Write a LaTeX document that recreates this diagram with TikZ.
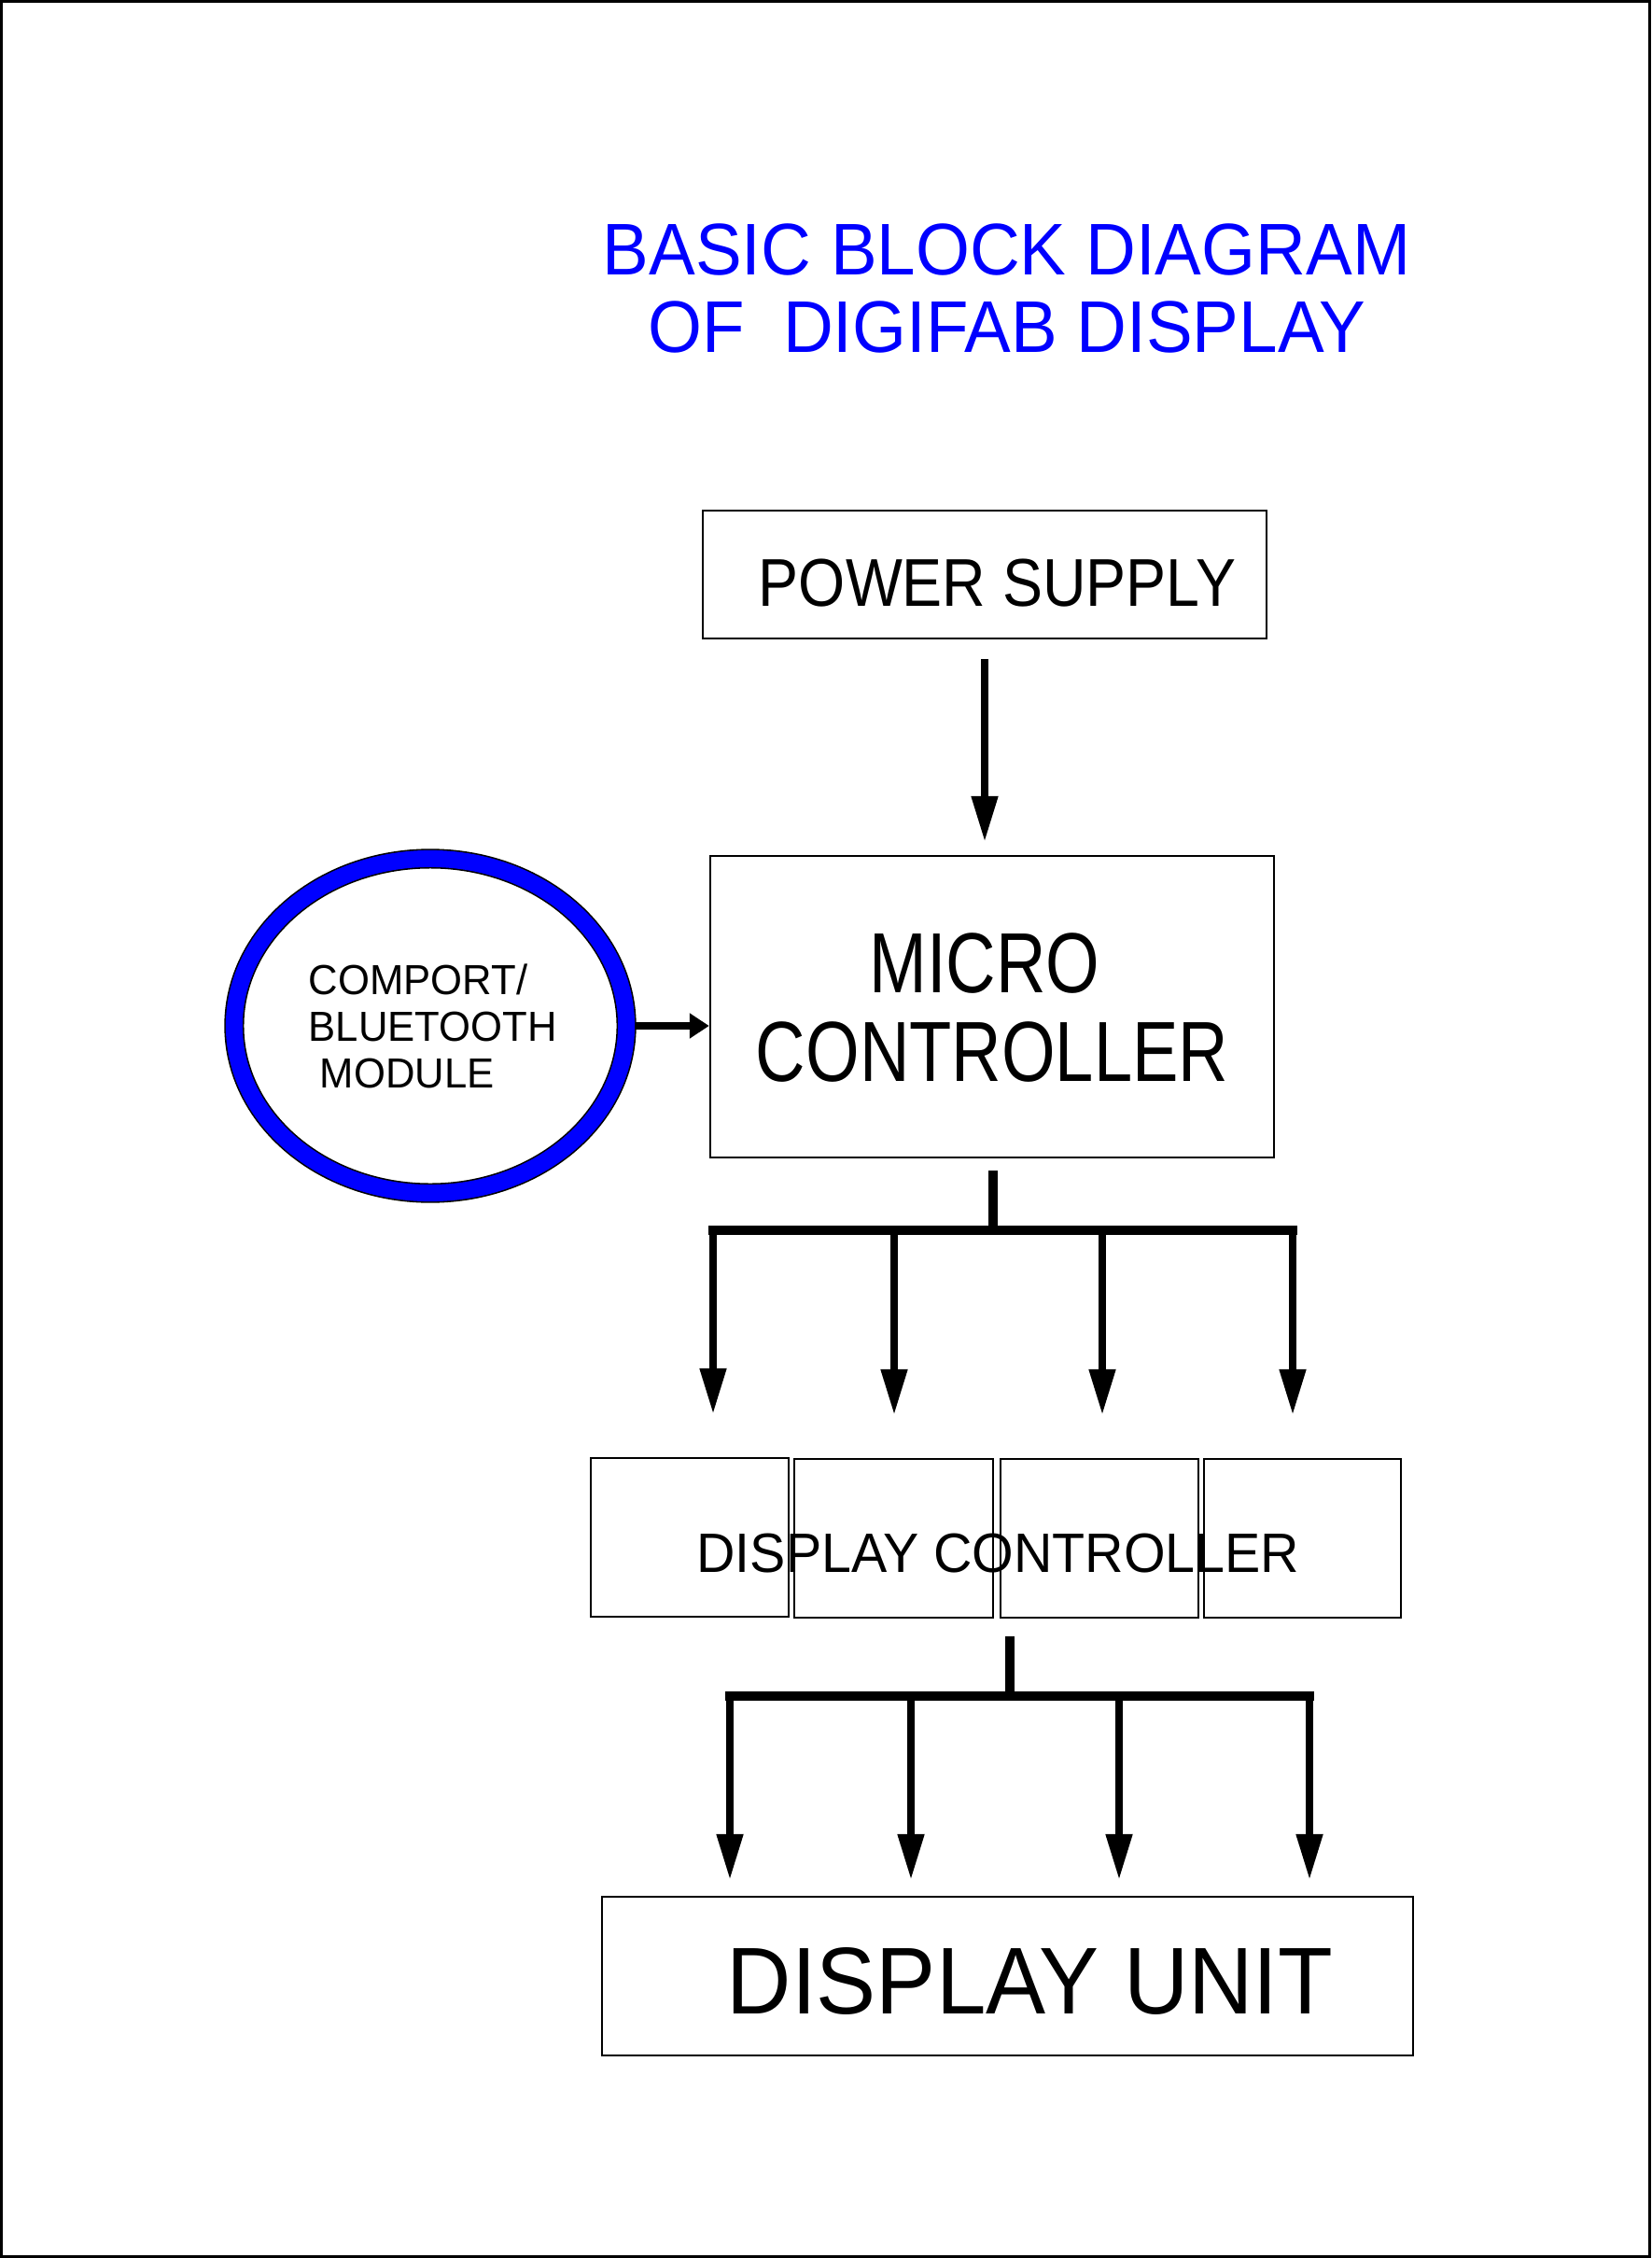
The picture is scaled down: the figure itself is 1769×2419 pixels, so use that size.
\documentclass[tikz,border=0pt]{standalone}
\usepackage{fontspec}
\setmainfont{Liberation Sans}
\usepackage{graphicx}
\usetikzlibrary{arrows.meta,shapes.geometric,calc}
\newcommand\hsq[2]{\scalebox{#1}[1]{#2}}
\begin{document}
\begin{tikzpicture}[x=0.01cm,y=-0.01cm,
  blk/.style={draw, line width=0.6pt, inner sep=0pt},
  lbl/.style={anchor=base, inner sep=0pt},
  arr/.style={line width=2.25pt, -{Triangle[length=0.49cm,width=0.27cm]}},
  arrs/.style={line width=2.25pt, -{Triangle[length=0.21cm,width=0.26cm]}},
  bus/.style={line width=2.8pt, line cap=rect},
  stem/.style={line width=3.1pt},
]
\useasboundingbox (0,0) rectangle (1769,2419);
\draw[line width=0.85pt] (1.5,1.5) rectangle (1767.5,2417.5);

% title
\node[lbl, align=center, text=blue, font=\fontsize{22.3}{23.85}\selectfont] (title) at (1078.5,378)
  {\hsq{0.95}{BASIC BLOCK DIAGRAM}\\\hsq{0.95}{OF\ \ DIGIFAB DISPLAY}};

% power supply
\node[blk, minimum width=6.04cm, minimum height=1.37cm] (ps) at (1055,615.5) {};
\node[lbl, font=\fontsize{20.6}{24}\selectfont] (pst) at (1068.5,650) {\hsq{0.89}{POWER SUPPLY}};

% micro controller
\node[blk, minimum width=6.04cm, minimum height=3.23cm] (mc) at (1063,1078.5) {};
\node[lbl, align=center, font=\fontsize{26}{27}\selectfont] (mct) at (1063,1158)
  {\hsq{0.81}{MICRO}\rule{0.16cm}{0pt}\\\hsq{0.81}{CONTROLLER}};

% comport ellipse
\node[ellipse, draw=black, double=blue, double distance=0.18cm, line width=0.45pt,
      minimum width=4.2cm, minimum height=3.58cm, inner sep=0pt, outer sep=0.1cm] (com) at (461,1099) {};
\node[anchor=base west, align=left, inner sep=0pt, font=\fontsize{12.8}{14.2}\selectfont] (comt) at (330,1165)
  {\hsq{0.97}{COMPORT/}\\\hsq{0.97}{BLUETOOTH}\\\hsq{0.97}{\ MODULE}};

% display controller boxes
\node[blk, minimum width=2.12cm, minimum height=1.70cm] (dc1) at (739,1647) {};
\node[blk, minimum width=2.13cm, minimum height=1.70cm] (dc2) at (957.5,1648) {};
\node[blk, minimum width=2.12cm, minimum height=1.70cm] (dc3) at (1178,1648) {};
\node[blk, minimum width=2.11cm, minimum height=1.70cm] (dc4) at (1395.5,1648) {};
\node[lbl, font=\fontsize{16.9}{20}\selectfont] (dct) at (1069.5,1684) {\hsq{0.965}{DISPLAY CONTROLLER}};

% display unit
\node[blk, minimum width=8.69cm, minimum height=1.70cm] (du) at (1079.5,2117) {};
\node[lbl, font=\fontsize{28.9}{32}\selectfont] (dut) at (1103.5,2157) {\hsq{0.945}{DISPLAY UNIT}};

% connectors
\draw[arr, shorten <=0.21cm, shorten >=0.14cm] (ps.south) -- (ps.south |- mc.north);
\draw[arrs] (com.east) -- (com.east -| mc.west);

% bus 1
\coordinate (j1) at (1064,1318);
\coordinate (d11) at (764,1318);
\coordinate (d12) at (958,1318);
\coordinate (d13) at (1181,1318);
\coordinate (d14) at (1385,1318);
\draw[stem, shorten <=0.13cm] (mc.south -| j1) -- (j1);
\draw[bus] (d11) -- (d14);
\draw[arr, shorten >=0.46cm] (d11) -- (d11 |- dc1.north);
\draw[arr, shorten >=0.46cm] (d12) -- (d12 |- dc2.north);
\draw[arr, shorten >=0.46cm] (d13) -- (d13 |- dc3.north);
\draw[arr, shorten >=0.46cm] (d14) -- (d14 |- dc4.north);

% bus 2
\coordinate (j2) at (1082,1817);
\coordinate (d21) at (782,1817);
\coordinate (d22) at (976,1817);
\coordinate (d23) at (1199,1817);
\coordinate (d24) at (1403,1817);
\draw[stem, shorten <=0.19cm] (j2 |- dc2.south) -- (j2);
\draw[bus] (d21) -- (d24);
\draw[arr, shorten >=0.17cm] (d21) -- (d21 |- du.north);
\draw[arr, shorten >=0.17cm] (d22) -- (d22 |- du.north);
\draw[arr, shorten >=0.17cm] (d23) -- (d23 |- du.north);
\draw[arr, shorten >=0.17cm] (d24) -- (d24 |- du.north);
\end{tikzpicture}
\end{document}
